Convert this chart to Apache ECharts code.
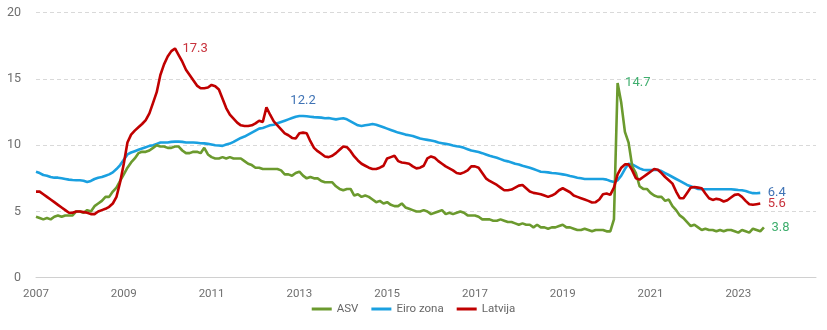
<!DOCTYPE html>
<html>
<head>
<meta charset="utf-8">
<script src="https://cdn.jsdelivr.net/npm/echarts@6/dist/echarts.min.js"></script>
<style>html,body{margin:0;padding:0;background:#fff}#c{width:827px;height:330px}</style>
</head>
<body>
<div id="c"></div>
<script>
// Monthly data starting January 2007
const startYear = 2007;
const seriesNames = ['ASV', 'Eiro zona', 'Latvija'];
const xTickLabels = [2007, 2009, 2011, 2013, 2015, 2017, 2019, 2021, 2023];
const yTickLabels = [0, 5, 10, 15, 20];

const asv = [
4.6,4.5,4.4,4.5,4.4,4.6,4.7,4.6,4.7,4.7,4.7,5.0,
5.0,4.9,5.1,5.0,5.4,5.6,5.8,6.1,6.1,6.5,6.8,7.3,
7.8,8.3,8.7,9.0,9.4,9.5,9.5,9.6,9.8,10.0,9.9,9.9,
9.8,9.8,9.9,9.9,9.6,9.4,9.4,9.5,9.5,9.4,9.8,9.3,
9.1,9.0,9.0,9.1,9.0,9.1,9.0,9.0,9.0,8.8,8.6,8.5,
8.3,8.3,8.2,8.2,8.2,8.2,8.2,8.1,7.8,7.8,7.7,7.9,
8.0,7.7,7.5,7.6,7.5,7.5,7.3,7.2,7.2,7.2,6.9,6.7,
6.6,6.7,6.7,6.2,6.3,6.1,6.2,6.1,5.9,5.7,5.8,5.6,
5.7,5.5,5.4,5.4,5.6,5.3,5.2,5.1,5.0,5.0,5.1,5.0,
4.8,4.9,5.0,5.1,4.8,4.9,4.8,4.9,5.0,4.9,4.7,4.7,
4.7,4.6,4.4,4.4,4.4,4.3,4.3,4.4,4.3,4.2,4.2,4.1,
4.0,4.1,4.0,4.0,3.8,4.0,3.8,3.8,3.7,3.8,3.8,3.9,
4.0,3.8,3.8,3.7,3.6,3.6,3.7,3.6,3.5,3.6,3.6,3.6,
3.5,3.5,4.4,14.7,13.2,11.0,10.2,8.4,7.9,6.9,6.7,6.7,
6.4,6.2,6.1,6.1,5.8,5.9,5.4,5.1,4.7,4.5,4.2,3.9,
4.0,3.8,3.6,3.7,3.6,3.6,3.5,3.6,3.5,3.6,3.6,3.5,
3.4,3.6,3.5,3.4,3.7,3.6,3.5,3.8
];

const eiroZona = [
8.0,7.9,7.75,7.7,7.6,7.55,7.55,7.5,7.45,7.4,7.37,7.35,
7.35,7.32,7.22,7.3,7.45,7.55,7.6,7.7,7.8,7.95,8.2,8.5,
8.9,9.3,9.45,9.55,9.65,9.75,9.85,9.95,10.0,10.1,10.2,10.2,
10.2,10.25,10.27,10.27,10.25,10.2,10.2,10.2,10.18,10.15,10.14,10.1,
10.05,10.0,9.98,9.95,10.05,10.12,10.25,10.4,10.55,10.65,10.8,10.95,
11.1,11.25,11.3,11.4,11.5,11.55,11.65,11.75,11.85,11.95,12.05,12.15,
12.2,12.2,12.18,12.15,12.12,12.1,12.08,12.03,12.05,12.0,11.95,12.0,
12.03,11.95,11.8,11.65,11.5,11.45,11.5,11.55,11.6,11.55,11.45,11.35,
11.25,11.15,11.05,10.95,10.88,10.8,10.75,10.7,10.6,10.5,10.45,10.4,
10.35,10.3,10.2,10.15,10.1,10.05,9.98,9.92,9.88,9.8,9.7,9.6,
9.55,9.48,9.4,9.3,9.2,9.12,9.05,8.95,8.85,8.78,8.7,8.6,
8.55,8.45,8.38,8.3,8.2,8.1,8.0,7.98,7.95,7.9,7.88,7.85,
7.8,7.75,7.68,7.62,7.55,7.5,7.45,7.45,7.45,7.45,7.45,7.45,
7.4,7.3,7.22,7.35,7.7,8.2,8.6,8.55,8.4,8.25,8.15,8.12,
8.12,8.13,8.13,8.05,7.9,7.75,7.6,7.45,7.3,7.15,7.0,6.9,
6.8,6.7,6.67,6.67,6.67,6.67,6.67,6.67,6.67,6.67,6.67,6.65,
6.62,6.6,6.55,6.45,6.38,6.37,6.4
];

const latvija = [
6.5,6.5,6.3,6.1,5.9,5.7,5.5,5.3,5.1,4.9,4.9,5.0,
5.0,4.95,4.9,4.8,4.8,5.0,5.1,5.2,5.35,5.6,6.1,7.2,
8.6,10.2,10.8,11.1,11.35,11.6,11.9,12.4,13.2,14.0,15.3,16.1,
16.7,17.1,17.3,16.8,16.3,15.7,15.3,14.9,14.5,14.3,14.3,14.35,
14.55,14.45,14.2,13.5,12.8,12.3,12.0,11.7,11.5,11.45,11.45,11.5,
11.65,11.85,11.75,12.85,12.3,11.8,11.5,11.2,10.9,10.75,10.55,10.5,
10.9,10.95,10.9,10.3,9.8,9.55,9.35,9.15,9.1,9.2,9.4,9.65,
9.9,9.85,9.55,9.15,8.85,8.6,8.45,8.3,8.2,8.2,8.3,8.45,
9.0,9.1,9.2,8.8,8.7,8.65,8.6,8.4,8.25,8.3,8.45,9.0,
9.15,9.05,8.8,8.6,8.4,8.25,8.1,7.9,7.85,7.95,8.1,8.4,
8.4,8.3,7.9,7.5,7.3,7.15,7.0,6.8,6.6,6.6,6.65,6.8,
6.95,7.0,6.75,6.5,6.4,6.35,6.3,6.2,6.1,6.2,6.35,6.6,
6.75,6.6,6.45,6.2,6.1,6.0,5.9,5.8,5.68,5.7,5.9,6.3,
6.35,6.25,6.8,7.8,8.3,8.55,8.55,8.1,7.5,7.4,7.6,7.8,
8.0,8.2,8.15,7.9,7.6,7.35,7.1,6.5,6.0,6.0,6.4,6.8,
6.85,6.8,6.75,6.35,6.0,5.87,5.95,5.9,5.75,5.85,6.05,6.25,
6.3,6.1,5.8,5.55,5.5,5.55,5.6
];

const colors = ['#6b9a2e', '#1aa0e0', '#c00000'];
const labelColors = ['#3fae6e', '#3f73b5', '#c8323c'];
const FONT = 'Roboto, "Noto Sans", sans-serif';

function toPairs(arr) {
  return arr.map((v, i) => [startYear + i / 12, v]);
}

function argMax(a) { return a.indexOf(Math.max(...a)); }

// annotation points: [index, position]
function annotations(arr, specs, color) {
  return specs.map(([idx, pos]) => ({
    coord: [startYear + idx / 12, arr[idx]],
    value: arr[idx].toFixed(1),
    label: {
      show: true,
      position: pos,
      distance: pos === 'top' ? 8 : 7,
      color: color,
      fontSize: 13,
      fontFamily: FONT,
      formatter: '{c}'
    }
  }));
}

function lineSeries(k, arr, specs, z) {
  return {
    name: seriesNames[k], type: 'line',
    showSymbol: false, symbol: 'none',
    color: colors[k],
    lineStyle: { width: 2.6, color: colors[k] }, z: z,
    emphasis: { disabled: true },
    data: toPairs(arr),
    markPoint: {
      symbol: 'circle', symbolSize: 1,
      itemStyle: { color: 'rgba(0,0,0,0)' },
      silent: true,
      animation: false,
      data: annotations(arr, specs, labelColors[k])
    }
  };
}

const chart = echarts.init(document.getElementById('c'), null, { renderer: 'canvas' });
chart.setOption({
  animation: false,
  backgroundColor: '#ffffff',
  textStyle: { fontFamily: FONT },
  grid: { left: 36, right: 11, top: 12.7, bottom: 52.3 },
  legend: {
    bottom: 10,
    left: 'center',
    icon: 'rect',
    itemWidth: 20,
    itemHeight: 3,
    itemGap: 13,
    textStyle: { color: '#666', fontSize: 11.5, fontFamily: FONT },
    data: seriesNames
  },
  xAxis: {
    type: 'value',
    min: xTickLabels[0],
    max: 2024.77,
    interval: 2,
    splitLine: { show: false },
    axisTick: { show: false },
    axisLine: { lineStyle: { color: '#d0d0d0', width: 1 } },
    axisLabel: {
      color: '#6f6f6f', fontSize: 11.5, margin: 10, fontFamily: FONT,
      formatter: (v) => xTickLabels.includes(Math.round(v * 1000) / 1000) ? String(v) : ''
    }
  },
  yAxis: {
    type: 'value',
    min: yTickLabels[0],
    max: yTickLabels[yTickLabels.length - 1],
    interval: 5,
    axisLine: { show: false },
    axisTick: { show: false },
    splitLine: { lineStyle: { color: '#d9d9d9', type: [4, 3], width: 1 } },
    axisLabel: { color: '#6f6f6f', fontSize: 12.5, margin: 15, fontFamily: FONT }
  },
  series: [
    lineSeries(0, asv, [[argMax(asv), 'right'], [asv.length - 1, 'right']], 3),
    lineSeries(1, eiroZona, [[argMax(eiroZona) + 1, 'top'], [eiroZona.length - 1, 'right']], 2),
    lineSeries(2, latvija, [[argMax(latvija), 'right'], [latvija.length - 1, 'right']], 4)
  ]
});
</script>
</body>
</html>
